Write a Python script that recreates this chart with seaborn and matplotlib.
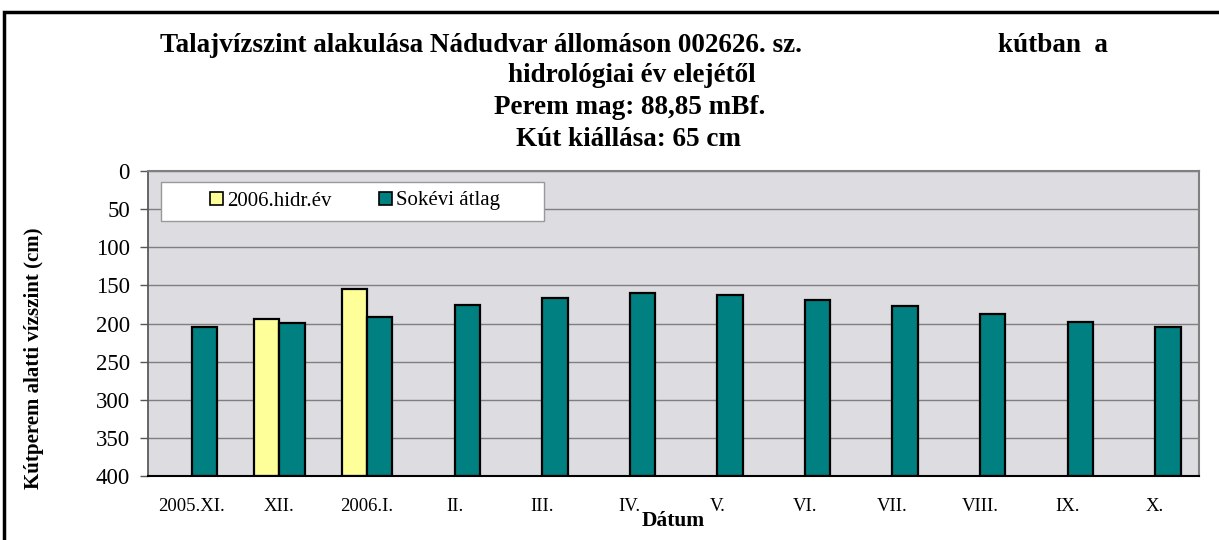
import numpy as np
import pandas as pd
import matplotlib
matplotlib.use("Agg")
import matplotlib.pyplot as plt
import matplotlib.patches as mpatches
from matplotlib.ticker import FuncFormatter, FixedLocator
import seaborn as sns

# ---------------------------
# Data (depth below well rim, cm)
# ---------------------------
months = ["2005.XI.", "XII.", "2006.I.", "II.", "III.", "IV.", "V.", "VI.",
          "VII.", "VIII.", "IX.", "X."]
year_2006 = [np.nan, 194, 155, np.nan, np.nan, np.nan, np.nan, np.nan,
             np.nan, np.nan, np.nan, np.nan]
longterm_avg = [205, 199, 191, 176, 167, 160, 163, 169, 177, 188, 198, 205]
series_names = ["2006.hidr.év", "Sokévi átlag"]
y_ticks = [0, 50, 100, 150, 200, 250, 300, 350, 400]
FLOOR = 400  # bars stand on the 400 cm axis line

df = pd.DataFrame({
    "Dátum": months * 2,
    "sorozat": [series_names[0]] * 12 + [series_names[1]] * 12,
    "melyseg": year_2006 + longterm_avg,
})
df["oszlop"] = FLOOR - df["melyseg"]

# ---------------------------
# Style
# ---------------------------
sns.set_theme(style="white")
plt.rcParams["font.family"] = ["Liberation Serif", "DejaVu Serif"]
plt.rcParams.update({"text.color": "black", "axes.labelcolor": "black",
                     "xtick.color": "black", "ytick.color": "black"})

colors = {"2006.hidr.év": "#FFFF99", "Sokévi átlag": "#008080"}

fig = plt.figure(figsize=(12.19, 5.4), dpi=100)
ax = fig.add_axes([148 / 1219, 64 / 540, 1051 / 1219, 305 / 540])
ax.set_facecolor("#dcdce1")

sns.barplot(data=df, x="Dátum", y="oszlop", hue="sorozat", order=months,
            hue_order=series_names, palette=colors, width=0.58, gap=0,
            edgecolor="black", linewidth=1.6, saturation=1, ax=ax, legend=False)

ax.set_xlim(-0.5, len(months) - 0.5)
ax.set_ylim(0, FLOOR)
ax.yaxis.set_major_locator(FixedLocator([FLOOR - t for t in y_ticks]))
ax.yaxis.set_major_formatter(FuncFormatter(lambda v, p: f"{FLOOR - v:.0f}"))
ax.grid(axis="y", color="#808080", linewidth=1)
ax.set_axisbelow(True)

ax.set_xticks(np.arange(len(months)))
ax.set_xticklabels(months, fontsize=13.5)
ax.set_xticks(np.arange(len(months) + 1) - 0.5, minor=True)
ax.tick_params(axis="x", which="major", length=0, pad=16)
ax.tick_params(axis="x", which="minor", length=5, width=1, color="#555555", direction="out")
ax.tick_params(axis="y", length=6, width=1, color="#555555", direction="out",
               labelsize=16.5, pad=7, left=True)

for s in ["top", "right"]:
    ax.spines[s].set_color("#808080")
    ax.spines[s].set_linewidth(1.5)
ax.spines["left"].set_color("#555555")
ax.spines["bottom"].set_color("black")
ax.spines["bottom"].set_linewidth(1.5)

ax.set_xlabel("Dátum", fontsize=15.5, fontweight="bold")
ax.xaxis.set_label_coords(0.5, (476 - 511) / 305)
ax.set_ylabel("Kútperem alatti vízszint (cm)", fontsize=15, fontweight="bold")
ax.yaxis.set_label_coords((44 - 148) / 1051, (476 - 358) / 305)

# legend: white box + centred entries
ax.add_patch(mpatches.Rectangle((13 / 1051, (476 - 221) / 305), 383 / 1051, 39 / 305,
                                transform=ax.transAxes, facecolor="white",
                                edgecolor="#999999", linewidth=1, zorder=4))
handles = [mpatches.Patch(facecolor=colors[n], edgecolor="black", linewidth=1.2, label=n)
           for n in series_names]
leg = ax.legend(handles=handles, loc="center", ncol=2,
                bbox_to_anchor=((355 - 148) / 1051, (476 - 201) / 305), fontsize=15,
                handlelength=0.6, handleheight=0.6, handletextpad=0.2,
                columnspacing=2.3, frameon=False, borderpad=0)
leg.set_zorder(5)

# title
title_kw = dict(va="center", fontsize=19.5, fontweight="bold")
fig.text(160 / 1219, 1 - 45 / 540, "Talajvízszint alakulása Nádudvar állomáson 002626. sz.",
         ha="left", **title_kw)
fig.text(998 / 1219, 1 - 45 / 540, "kútban  a", ha="left", **title_kw)
fig.text(632 / 1219, 1 - 76 / 540, "hidrológiai év elejétől", ha="center", **title_kw)
fig.text(630 / 1219, 1 - 108 / 540, "Perem mag: 88,85 mBf.", ha="center", **title_kw)
fig.text(629 / 1219, 1 - 140 / 540, "Kút kiállása: 65 cm", ha="center", **title_kw)

# outer frame
fig.patches.append(mpatches.Rectangle((4 / 1219, -0.1), 1.2, 1.1 - 12 / 540,
                                      transform=fig.transFigure, fill=False,
                                      edgecolor="black", linewidth=2.5, clip_on=False))

fig.savefig("out.png", dpi=100)
